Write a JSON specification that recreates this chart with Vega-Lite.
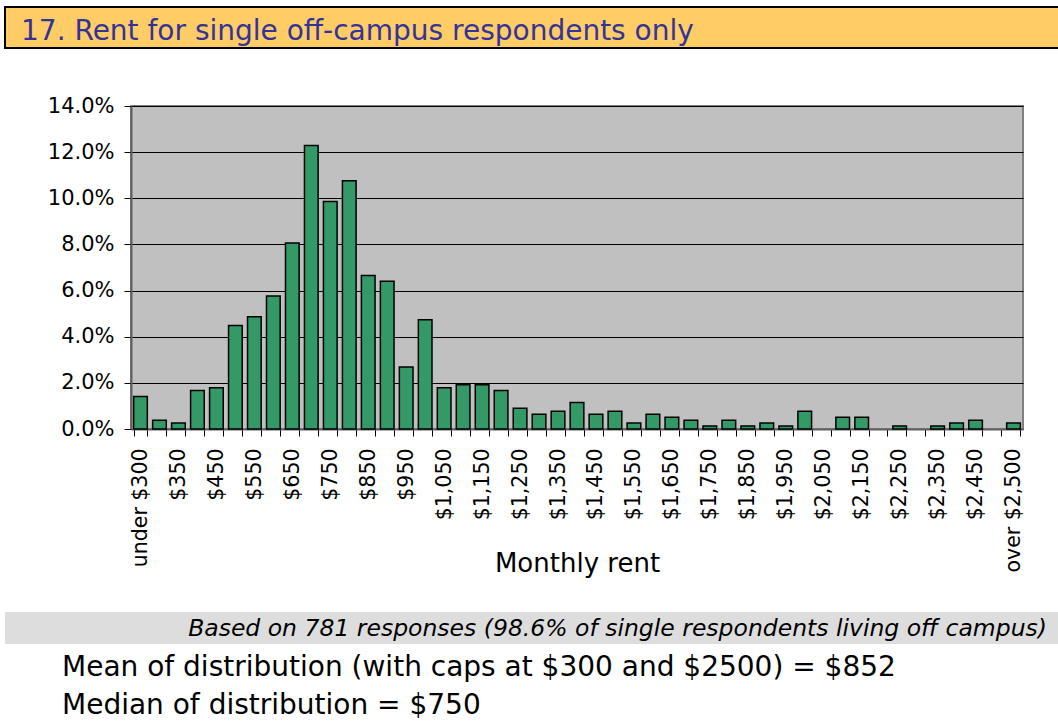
{
  "$schema": "https://vega.github.io/schema/vega-lite/v6.json",
  "padding": {"left": 4, "top": 6, "right": 0, "bottom": 0},
  "background": "white",
  "bounds": "full",
  "spacing": 45,
  "config": {
    "font": "DejaVu Sans",
    "view": {"stroke": null},
    "axis": {"titleFontWeight": "normal"}
  },
  "vconcat": [
    {
      "width": 1054,
      "height": 41,
      "view": {"fill": "#FFCC66", "stroke": "black", "strokeWidth": 2},
      "data": {"values": [{"title": "17. Rent for single off-campus respondents only"}]},
      "mark": {"type": "text", "align": "left", "baseline": "alphabetic", "dx": 16, "dy": 12, "fontSize": 28, "color": "#333399"},
      "encoding": {
        "x": {"datum": 0, "type": "quantitative", "scale": {"domain": [0, 1], "nice": false}, "axis": null},
        "text": {"field": "title"}
      }
    },
    {
      "spacing": 0,
      "bounds": "full",
      "vconcat": [
        {
          "spacing": 0,
          "bounds": "flush",
          "hconcat": [
            {
              "width": 126,
              "height": 323,
              "data": {"values": []},
              "mark": {"type": "text"},
              "encoding": {}
            },
            {
              "width": 892,
              "height": 323,
              "view": {"fill": "#C0C0C0", "stroke": "#808080", "strokeWidth": 2},
              "data": {"values": [
                {"rent": "under $300", "share": 0.0140845},
                {"rent": "$300", "share": 0.0038412},
                {"rent": "$350", "share": 0.0025608},
                {"rent": "$400", "share": 0.0166453},
                {"rent": "$450", "share": 0.0179257},
                {"rent": "$500", "share": 0.0448143},
                {"rent": "$550", "share": 0.0486556},
                {"rent": "$600", "share": 0.0576184},
                {"rent": "$650", "share": 0.0806658},
                {"rent": "$700", "share": 0.1229193},
                {"rent": "$750", "share": 0.0985915},
                {"rent": "$800", "share": 0.1075544},
                {"rent": "$850", "share": 0.0665813},
                {"rent": "$900", "share": 0.0640205},
                {"rent": "$950", "share": 0.0268886},
                {"rent": "$1,000", "share": 0.0473752},
                {"rent": "$1,050", "share": 0.0179257},
                {"rent": "$1,100", "share": 0.0192061},
                {"rent": "$1,150", "share": 0.0192061},
                {"rent": "$1,200", "share": 0.0166453},
                {"rent": "$1,250", "share": 0.0089629},
                {"rent": "$1,300", "share": 0.0064020},
                {"rent": "$1,350", "share": 0.0076825},
                {"rent": "$1,400", "share": 0.0115237},
                {"rent": "$1,450", "share": 0.0064020},
                {"rent": "$1,500", "share": 0.0076825},
                {"rent": "$1,550", "share": 0.0025608},
                {"rent": "$1,600", "share": 0.0064020},
                {"rent": "$1,650", "share": 0.0051216},
                {"rent": "$1,700", "share": 0.0038412},
                {"rent": "$1,750", "share": 0.0012804},
                {"rent": "$1,800", "share": 0.0038412},
                {"rent": "$1,850", "share": 0.0012804},
                {"rent": "$1,900", "share": 0.0025608},
                {"rent": "$1,950", "share": 0.0012804},
                {"rent": "$2,000", "share": 0.0076825},
                {"rent": "$2,050", "share": 0},
                {"rent": "$2,100", "share": 0.0051216},
                {"rent": "$2,150", "share": 0.0051216},
                {"rent": "$2,200", "share": 0},
                {"rent": "$2,250", "share": 0.0012804},
                {"rent": "$2,300", "share": 0},
                {"rent": "$2,350", "share": 0.0012804},
                {"rent": "$2,400", "share": 0.0025608},
                {"rent": "$2,450", "share": 0.0038412},
                {"rent": "$2,500", "share": 0},
                {"rent": "over $2,500", "share": 0.0025608}
              ]},
              "mark": {"type": "bar", "fill": "#339966", "stroke": "black", "strokeWidth": 1.5},
              "encoding": {
                "x": {
                  "field": "rent", "type": "nominal", "sort": null,
                  "scale": {"paddingInner": 0.28, "paddingOuter": 0.14},
                  "axis": {
                    "title": "Monthly rent",
                    "labelAngle": -90, "labelAlign": "right", "labelBaseline": "middle",
                    "labelFontSize": 20.5, "labelColor": "black", "labelPadding": 12,
                    "labelOverlap": false,
                    "labelExpr": "indexof(['under $300','$350','$450','$550','$650','$750','$850','$950','$1,050','$1,150','$1,250','$1,350','$1,450','$1,550','$1,650','$1,750','$1,850','$1,950','$2,050','$2,150','$2,250','$2,350','$2,450','over $2,500'], datum.label) >= 0 ? datum.label : ''",
                    "tickBand": "extent", "tickSize": 7, "tickColor": "black",
                    "domainColor": "#606060", "domainWidth": 2,
                    "titleFontSize": 26, "titleColor": "black", "titleY": 142, "titleBaseline": "alphabetic"
                  }
                },
                "y": {
                  "field": "share", "type": "quantitative",
                  "scale": {"domain": [0, 0.14], "nice": false},
                  "axis": {
                    "title": null, "format": ".1%",
                    "values": [0, 0.02, 0.04, 0.06, 0.08, 0.1, 0.12, 0.14],
                    "grid": true, "gridColor": "black", "gridWidth": 1, "gridOpacity": 1,
                    "labelFontSize": 21, "labelColor": "black", "labelPadding": 10,
                    "tickSize": 7, "tickColor": "black",
                    "domainColor": "#606060", "domainWidth": 2
                  }
                },
                "strokeOpacity": {"condition": {"test": "datum.share == 0", "value": 0}, "value": 1}
              }
            }
          ]
        },
        {
          "width": 1054,
          "height": 145,
          "data": {"values": [
            {"line": "note", "text": "Based on 781 responses (98.6% of single respondents living off campus)"},
            {"line": "mean", "text": "Mean of distribution (with caps at $300 and $2500) = $852"},
            {"line": "median", "text": "Median of distribution = $750"}
          ]},
          "encoding": {
            "y": {"field": "line", "type": "nominal", "sort": null, "axis": null,
              "scale": {"paddingInner": 0.147, "paddingOuter": 0.507, "align": 0.92}}
          },
          "layer": [
            {
              "transform": [{"filter": "datum.line == 'note'"}],
              "mark": {"type": "rect", "fill": "#DDDDDD"},
              "encoding": {
                "x": {"datum": 0, "type": "quantitative", "scale": {"domain": [0, 1], "nice": false}, "axis": null},
                "x2": {"datum": 1}
              }
            },
            {
              "transform": [{"filter": "datum.line == 'note'"}],
              "mark": {"type": "text", "align": "right", "baseline": "middle", "fontStyle": "italic", "fontSize": 23.5, "dx": -12, "dy": 1, "color": "black"},
              "encoding": {
                "x": {"datum": 1, "type": "quantitative"},
                "text": {"field": "text"}
              }
            },
            {
              "transform": [{"filter": "datum.line != 'note'"}],
              "mark": {"type": "text", "align": "left", "baseline": "middle", "fontSize": 28, "dx": 57, "dy": 3, "color": "black"},
              "encoding": {
                "x": {"datum": 0, "type": "quantitative"},
                "text": {"field": "text"}
              }
            }
          ]
        }
      ]
    }
  ]
}
